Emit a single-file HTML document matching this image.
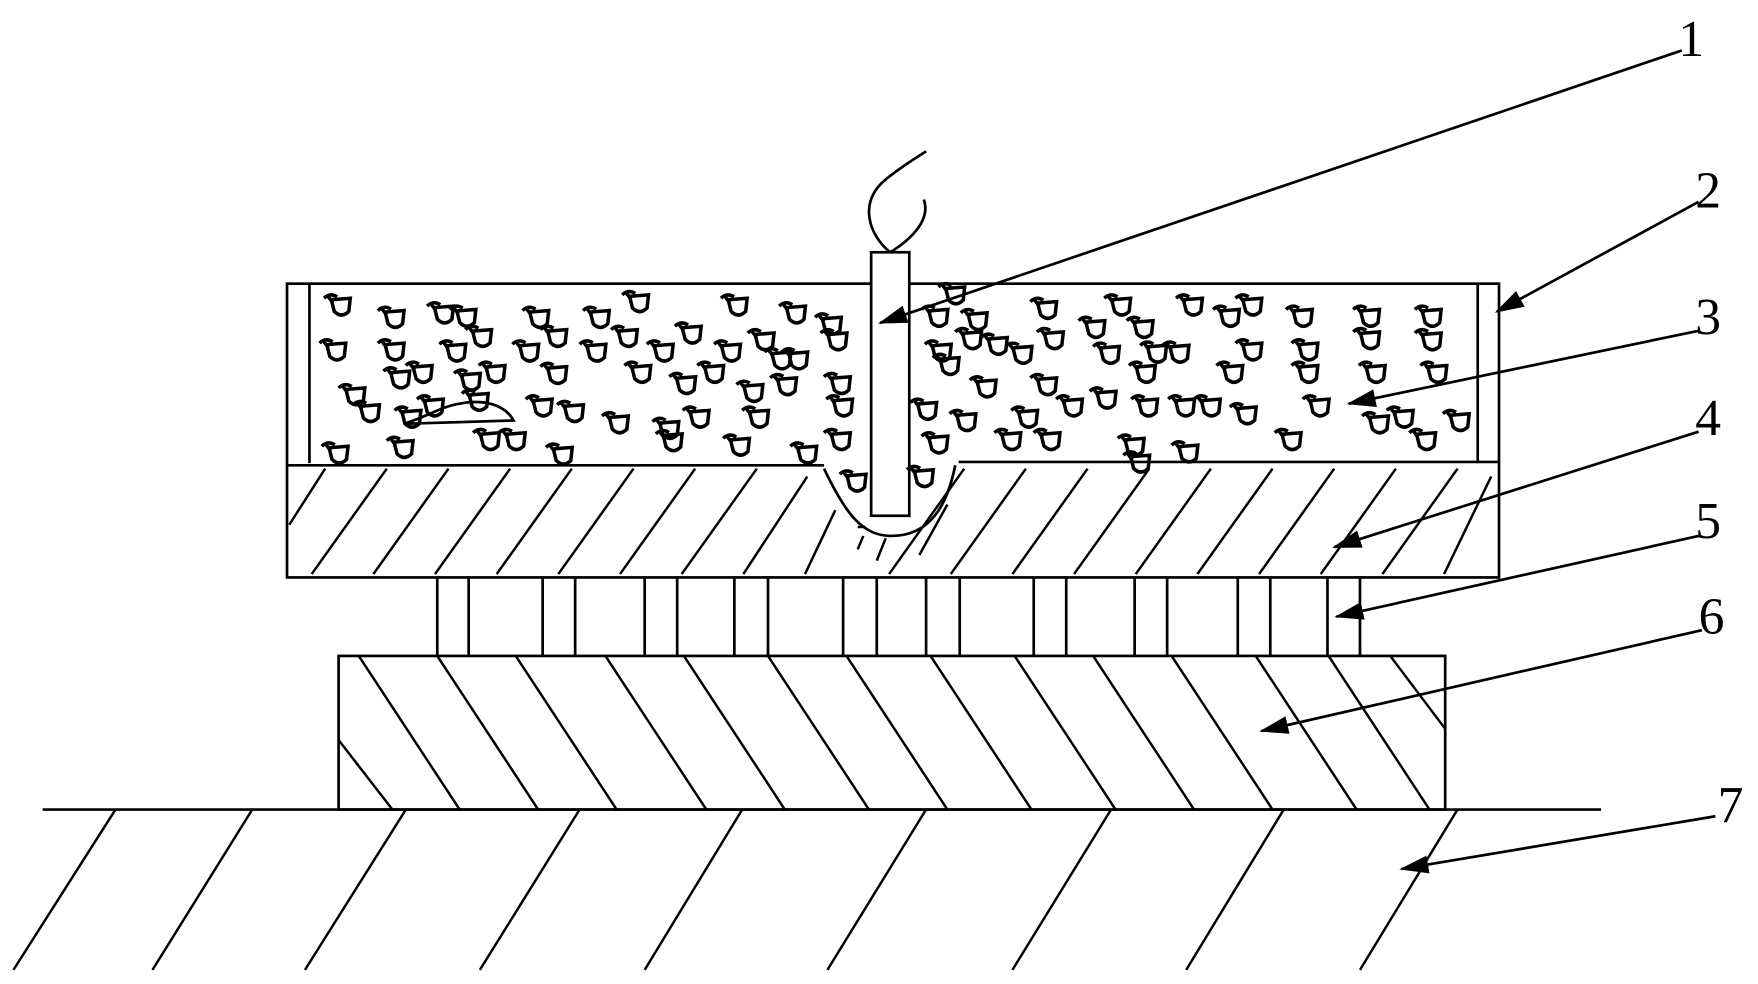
<!DOCTYPE html>
<html><head><meta charset="utf-8"><style>
html,body{margin:0;padding:0;background:#fff;width:1758px;height:984px;overflow:hidden}
svg{display:block}
text{font-family:"Liberation Serif",serif;font-size:46px;fill:#000}
</style></head><body>
<svg width="1758" height="984" viewBox="0 0 1568 877.6" preserveAspectRatio="none" xmlns="http://www.w3.org/2000/svg">
<defs>
<symbol id="p" viewBox="0 0 20 16" overflow="visible">
<path d="M0,3 q4,-4 9,-1 M3,2 l3,4 M5,4 l2,8 q5,5 10,0 l1,-9 z" fill="none" stroke="#000" stroke-width="2.4"/>
</symbol>
<marker id="a" viewBox="0 0 26 16" refX="24" refY="8" markerWidth="26" markerHeight="16" orient="auto" markerUnits="userSpaceOnUse"><path d="M0,0 L26,8 L0,16 z" fill="#000"/></marker>
</defs>
<g fill="none" stroke="#000" stroke-width="2.4">
<rect x="256" y="253" width="1081" height="262"/>
<line x1="276" y1="253" x2="276" y2="413"/>
<line x1="1318" y1="253" x2="1318" y2="413"/>
<line x1="256" y1="415" x2="735" y2="415"/>
<line x1="855" y1="412" x2="1337" y2="412"/>
<path d="M735,418 C755,460 770,478 795,478 C830,478 845,450 852,415"/>
<rect x="777" y="225" width="34" height="235" fill="#fff"/>
<path d="M794,225 C775,210 765,180 790,160 C805,148 815,142 826,135"/>
<path d="M794,225 C815,212 830,195 824,178"/>
<g stroke-width="2.2">
<path d="M290,418 L258,468 M345,418 L278,512 M400,418 L333,512 M455,418 L388,512 M510,418 L443,512 M565,418 L498,512 M620,418 L553,512 M675,418 L608,512 M720,425 L663,512 M745,455 L718,512 M770,478 L765,490 M765,470 L772,470 M860,418 L793,512 M915,418 L848,512 M970,418 L903,512 M1025,418 L958,512 M1080,418 L1013,512 M1135,418 L1068,512 M1190,418 L1123,512 M1245,418 L1178,512 M1300,418 L1233,512 M1330,425 L1288,512 M845,450 L820,495 M790,480 L782,500"/>
</g>
<path d="M390,515 V585 M418,515 V585 M484,515 V585 M513,515 V585 M575,515 V585 M604,515 V585 M655,515 V585 M685,515 V585 M752,515 V585 M782,515 V585 M826,515 V585 M856,515 V585 M922,515 V585 M951,515 V585 M1012,515 V585 M1041,515 V585 M1104,515 V585 M1133,515 V585 M1184,515 V585 M1213,515 V585"/>
<rect x="302" y="585" width="987" height="137"/>
<g stroke-width="2.2">
<path d="M302,660 L350,722 M320,585 L410,722 M390,585 L480,722 M460,585 L550,722 M540,585 L630,722 M610,585 L700,722 M685,585 L775,722 M755,585 L845,722 M830,585 L920,722 M905,585 L995,722 M975,585 L1065,722 M1045,585 L1135,722 M1120,585 L1210,722 M1185,585 L1275,722 M1240,585 L1289,650"/>
</g>
<line x1="38" y1="722" x2="1428" y2="722"/>
<g stroke-width="2.2">
<path d="M103,722 L12,865 M225,722 L136,865 M362,722 L272,865 M517,722 L428,865 M662,722 L575,865 M826,722 L738,865 M991,722 L903,865 M1145,722 L1058,865 M1300,722 L1213,865"/>
</g>
<g stroke-width="2.4" marker-end="url(#a)">
<line x1="1500" y1="45" x2="785" y2="288"/>
<line x1="1515" y1="180" x2="1335" y2="278"/>
<line x1="1515" y1="295" x2="1203" y2="360"/>
<line x1="1515" y1="385" x2="1190" y2="488"/>
<line x1="1515" y1="478" x2="1192" y2="550"/>
<line x1="1518" y1="562" x2="1125" y2="652"/>
<line x1="1530" y1="728" x2="1250" y2="775"/>
</g>
<path d="M360,378 C380,372 395,362 410,360 C430,356 450,360 458,375 Z" fill="#fff"/>
</g>
<g transform="translate(-3,-3)">
<use href="#p" x="292" y="265" width="26" height="21"/><use href="#p" x="340" y="276" width="26" height="21"/><use href="#p" x="384" y="272" width="26" height="21"/><use href="#p" x="404" y="275" width="26" height="21"/><use href="#p" x="469" y="276" width="26" height="21"/><use href="#p" x="523" y="276" width="26" height="21"/><use href="#p" x="558" y="262" width="26" height="21"/><use href="#p" x="646" y="265" width="26" height="21"/><use href="#p" x="698" y="272" width="26" height="21"/><use href="#p" x="730" y="282" width="26" height="21"/>
<use href="#p" x="288" y="305" width="26" height="21"/><use href="#p" x="340" y="305" width="26" height="21"/><use href="#p" x="395" y="306" width="26" height="21"/><use href="#p" x="418" y="293" width="26" height="21"/><use href="#p" x="460" y="306" width="26" height="21"/><use href="#p" x="485" y="293" width="26" height="21"/><use href="#p" x="520" y="306" width="26" height="21"/><use href="#p" x="548" y="293" width="26" height="21"/><use href="#p" x="580" y="306" width="26" height="21"/><use href="#p" x="605" y="290" width="26" height="21"/><use href="#p" x="640" y="306" width="26" height="21"/><use href="#p" x="670" y="296" width="26" height="21"/><use href="#p" x="685" y="313" width="26" height="21"/><use href="#p" x="700" y="313" width="26" height="21"/><use href="#p" x="735" y="296" width="26" height="21"/>
<use href="#p" x="305" y="345" width="26" height="21"/><use href="#p" x="345" y="330" width="26" height="21"/><use href="#p" x="365" y="325" width="26" height="21"/><use href="#p" x="408" y="332" width="26" height="21"/><use href="#p" x="430" y="325" width="26" height="21"/><use href="#p" x="485" y="326" width="26" height="21"/><use href="#p" x="560" y="325" width="26" height="21"/><use href="#p" x="600" y="335" width="26" height="21"/><use href="#p" x="625" y="325" width="26" height="21"/><use href="#p" x="660" y="342" width="26" height="21"/><use href="#p" x="690" y="336" width="26" height="21"/><use href="#p" x="738" y="335" width="26" height="21"/>
<use href="#p" x="318" y="360" width="26" height="21"/><use href="#p" x="355" y="365" width="26" height="21"/><use href="#p" x="375" y="355" width="26" height="21"/><use href="#p" x="415" y="350" width="26" height="21"/><use href="#p" x="472" y="355" width="26" height="21"/><use href="#p" x="500" y="360" width="26" height="21"/><use href="#p" x="540" y="370" width="26" height="21"/><use href="#p" x="585" y="375" width="26" height="21"/><use href="#p" x="612" y="365" width="26" height="21"/><use href="#p" x="665" y="365" width="26" height="21"/><use href="#p" x="740" y="355" width="26" height="21"/>
<use href="#p" x="290" y="397" width="26" height="21"/><use href="#p" x="348" y="392" width="26" height="21"/><use href="#p" x="425" y="385" width="26" height="21"/><use href="#p" x="448" y="385" width="26" height="21"/><use href="#p" x="490" y="398" width="26" height="21"/><use href="#p" x="588" y="386" width="26" height="21"/><use href="#p" x="648" y="390" width="26" height="21"/><use href="#p" x="708" y="397" width="26" height="21"/><use href="#p" x="738" y="385" width="26" height="21"/><use href="#p" x="752" y="422" width="26" height="21"/><use href="#p" x="812" y="418" width="26" height="21"/>
<use href="#p" x="840" y="255" width="26" height="21"/><use href="#p" x="825" y="275" width="26" height="21"/><use href="#p" x="860" y="278" width="26" height="21"/><use href="#p" x="922" y="268" width="26" height="21"/><use href="#p" x="988" y="265" width="26" height="21"/><use href="#p" x="1052" y="265" width="26" height="21"/><use href="#p" x="1085" y="275" width="26" height="21"/><use href="#p" x="1105" y="265" width="26" height="21"/><use href="#p" x="1150" y="275" width="26" height="21"/><use href="#p" x="1210" y="275" width="26" height="21"/><use href="#p" x="1265" y="275" width="26" height="21"/>
<use href="#p" x="828" y="306" width="26" height="21"/><use href="#p" x="855" y="295" width="26" height="21"/><use href="#p" x="878" y="300" width="26" height="21"/><use href="#p" x="900" y="308" width="26" height="21"/><use href="#p" x="928" y="295" width="26" height="21"/><use href="#p" x="965" y="285" width="26" height="21"/><use href="#p" x="978" y="308" width="26" height="21"/><use href="#p" x="1008" y="285" width="26" height="21"/><use href="#p" x="1020" y="307" width="26" height="21"/><use href="#p" x="1040" y="307" width="26" height="21"/><use href="#p" x="1105" y="305" width="26" height="21"/><use href="#p" x="1155" y="305" width="26" height="21"/><use href="#p" x="1210" y="295" width="26" height="21"/><use href="#p" x="1265" y="296" width="26" height="21"/>
<use href="#p" x="835" y="318" width="26" height="21"/><use href="#p" x="868" y="338" width="26" height="21"/><use href="#p" x="922" y="336" width="26" height="21"/><use href="#p" x="975" y="348" width="26" height="21"/><use href="#p" x="1010" y="325" width="26" height="21"/><use href="#p" x="1088" y="325" width="26" height="21"/><use href="#p" x="1155" y="325" width="26" height="21"/><use href="#p" x="1215" y="325" width="26" height="21"/><use href="#p" x="1270" y="325" width="26" height="21"/>
<use href="#p" x="815" y="358" width="26" height="21"/><use href="#p" x="850" y="368" width="26" height="21"/><use href="#p" x="905" y="365" width="26" height="21"/><use href="#p" x="945" y="355" width="26" height="21"/><use href="#p" x="1012" y="355" width="26" height="21"/><use href="#p" x="1045" y="355" width="26" height="21"/><use href="#p" x="1068" y="355" width="26" height="21"/><use href="#p" x="1100" y="362" width="26" height="21"/><use href="#p" x="1165" y="355" width="26" height="21"/><use href="#p" x="1218" y="370" width="26" height="21"/><use href="#p" x="1240" y="365" width="26" height="21"/><use href="#p" x="1290" y="368" width="26" height="21"/>
<use href="#p" x="825" y="388" width="26" height="21"/><use href="#p" x="890" y="385" width="26" height="21"/><use href="#p" x="925" y="385" width="26" height="21"/><use href="#p" x="1000" y="390" width="26" height="21"/><use href="#p" x="1005" y="405" width="26" height="21"/><use href="#p" x="1048" y="396" width="26" height="21"/><use href="#p" x="1140" y="385" width="26" height="21"/><use href="#p" x="1260" y="385" width="26" height="21"/>
</g>
<text x="1497" y="50">1</text>
<text x="1512" y="185">2</text>
<text x="1512" y="298">3</text>
<text x="1512" y="388">4</text>
<text x="1512" y="480">5</text>
<text x="1515" y="565">6</text>
<text x="1532" y="733">7</text>
</svg>
</body></html>
